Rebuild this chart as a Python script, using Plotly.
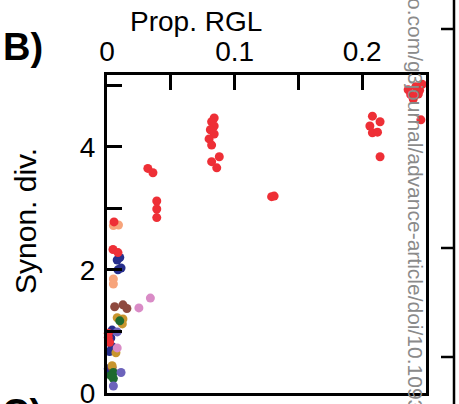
import plotly.graph_objects as go

# ---- data (Prop. RGL, Synon. div.) per colour group ----
red_x = [0.236, 0.238, 0.242, 0.245, 0.247, 0.240, 0.244, 0.246,
         0.208, 0.206, 0.214, 0.208, 0.212, 0.214,
         0.129, 0.131,
         0.084, 0.082, 0.084, 0.081, 0.084, 0.080, 0.082, 0.088, 0.082, 0.086,
         0.032, 0.036, 0.039, 0.039, 0.039,
         0.0055, 0.0047, 0.0086, 0.001, 0.001, 0.002]
red_y = [4.93, 4.85, 4.98, 4.92, 5.02, 4.78, 4.86, 4.44,
         4.50, 4.34, 4.41, 4.23, 4.24, 3.84,
         3.19, 3.20,
         4.47, 4.41, 4.34, 4.28, 4.21, 4.13, 4.03, 3.84, 3.76, 3.66,
         3.65, 3.58, 3.12, 2.99, 2.85,
         2.78, 2.33, 2.28, 0.97, 0.90, 0.82]

salmon_x = [0.009, 0.005, 0.005, 0.005]
salmon_y = [2.73, 2.72, 1.85, 1.77]

navy_x = [0.008, 0.010, 0.0086, 0.011, 0.004, 0.003, 0.004, 0.002, 0.001]
navy_y = [2.16, 2.20, 2.00, 2.03, 1.02, 0.89, 0.75, 0.67, 0.39]

brown_x = [0.006, 0.0125, 0.0156, 0.004]
brown_y = [1.40, 1.43, 1.37, 0.41]

gold_x = [0.008, 0.0125, 0.012, 0.007, 0.004]
gold_y = [1.22, 1.20, 1.12, 0.65, 0.44]

green_x = [0.010, 0.005, 0.005, 0.003]
green_y = [1.17, 0.33, 0.23, 0.28]

purple_x = [0.008, 0.011, 0.005]
purple_y = [0.99, 0.33, 0.11]

pink_x = [0.034, 0.025, 0.008]
pink_y = [1.54, 1.38, 0.73]

x_tickvals = [0, 0.05, 0.1, 0.15, 0.2]
x_ticktext = ["0", "", "0.1", "", "0.2"]
y_tickvals = [0, 1, 2, 3, 4, 5]
y_ticktext = ["0", "", "2", "", "4", ""]

groups = [
    (salmon_x, salmon_y, "#F7A47B"),
    (navy_x, navy_y, "#262E8C"),
    (brown_x, brown_y, "#8E4A3F"),
    (gold_x, gold_y, "#C8952E"),
    (green_x, green_y, "#1E6A2F"),
    (purple_x, purple_y, "#6C63BB"),
    (pink_x, pink_y, "#D98BC6"),
    (red_x, red_y, "#EE2F36"),
]

fig = go.Figure()
for gx, gy, col in groups:
    fig.add_trace(go.Scatter(x=gx, y=gy, mode="markers", cliponaxis=False,
                             marker=dict(size=9, color=col, line=dict(width=0))))

FONT = "Liberation Sans, Arial, sans-serif"
W, H = 459, 404
L, R, T, B = 107, 33, 75, 11
pw, ph = W - L - R, H - T - B

def px(x):
    return (x - L) / pw

def py(y):
    return (H - B - y) / ph

axis_common = dict(showline=True, linewidth=3, linecolor="black", mirror=True,
                   ticks="inside", ticklen=15, tickwidth=3, tickcolor="black",
                   showgrid=False, zeroline=False, layer="above traces",
                   ticklabeloverflow="allow",
                   tickfont=dict(size=28, family=FONT, color="black"))

fig.update_xaxes(side="top", range=[0, 0.25], tickvals=x_tickvals, ticktext=x_ticktext,
                 **axis_common)
fig.update_yaxes(range=[-0.004, 5.17], tickvals=y_tickvals, ticktext=y_ticktext,
                 ticklabelstandoff=3, **axis_common)

annotations = [
    dict(text="Prop. RGL", x=px(196), y=py(22), font=dict(size=28)),
    dict(text="Synon. div.", x=px(25), y=py(221), textangle=-90, font=dict(size=30)),
    dict(text="<b>B)</b>", x=px(23), y=py(47), font=dict(size=38)),
    dict(text="<b>C)</b>", x=px(22), y=py(413), font=dict(size=38)),
    dict(text="o.com/g3journal/advance-article/doi/10.1093", x=px(416), y=py(204),
         textangle=90, font=dict(size=21, color="#8a8a8a")),
]
for a in annotations:
    a.update(xref="paper", yref="paper", showarrow=False, xanchor="center", yanchor="middle")
    a["font"].setdefault("color", "black")
    a["font"]["family"] = FONT

shapes = [dict(type="line", xref="paper", yref="paper", x0=px(454), x1=px(454),
               y0=py(404), y1=py(0), line=dict(color="black", width=2.5))]
for ty in [29, 248, 357]:
    shapes.append(dict(type="line", xref="paper", yref="paper", x0=px(441), x1=px(454),
                       y0=py(ty), y1=py(ty), line=dict(color="black", width=2.5)))

fig.update_layout(width=W, height=H, margin=dict(l=L, r=R, t=T, b=B, autoexpand=False),
                  paper_bgcolor="white", plot_bgcolor="white", showlegend=False,
                  font=dict(family=FONT, color="black"),
                  annotations=annotations, shapes=shapes)

fig.write_html("out.html", config={"displayModeBar": False},
               post_script="document.body.style.margin='0';document.body.style.overflow='hidden';")
